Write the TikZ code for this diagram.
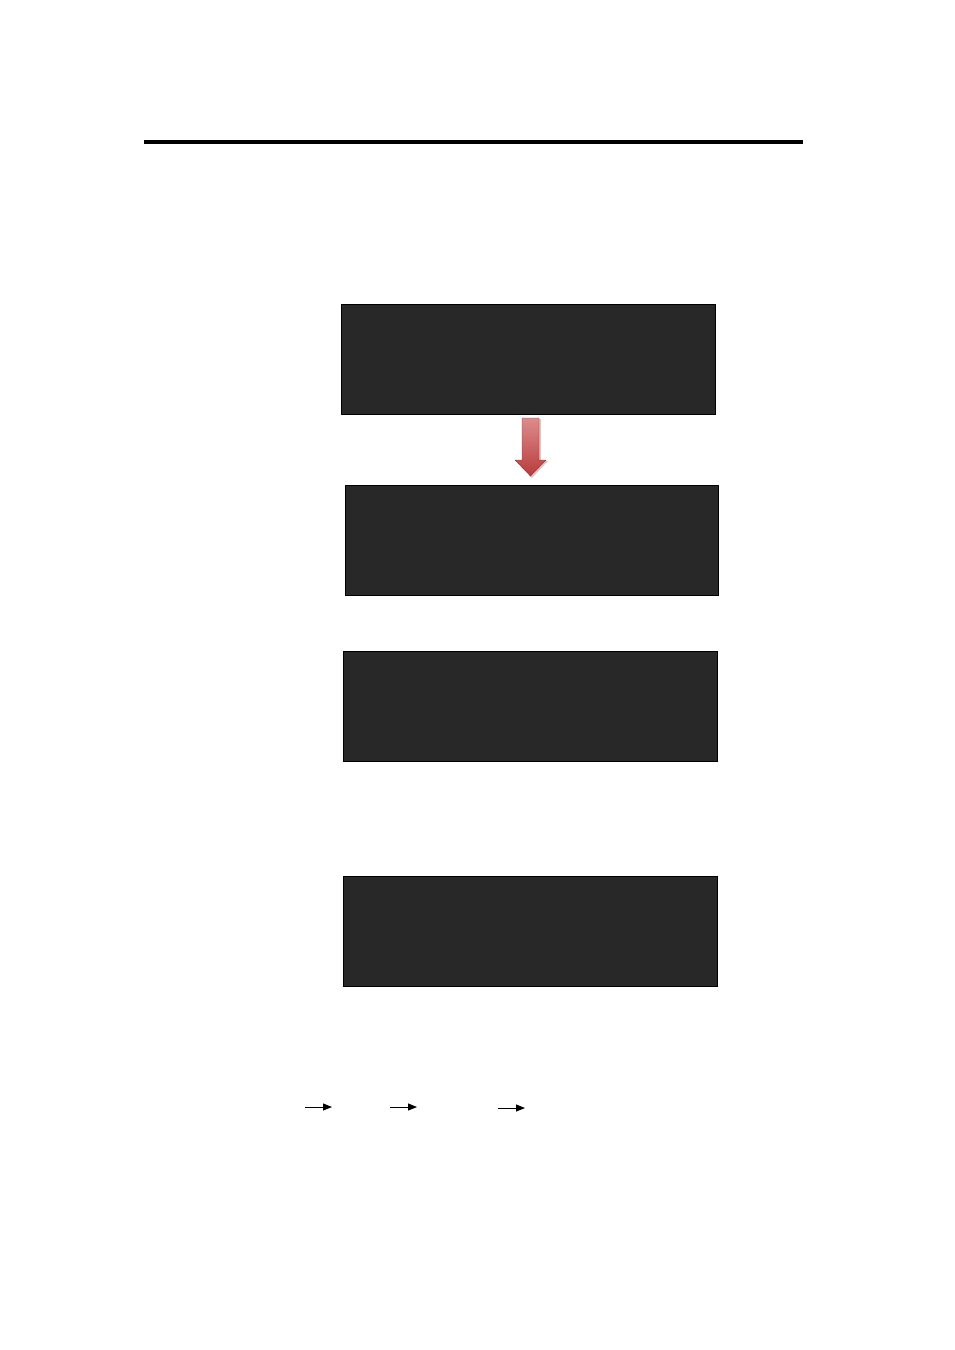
\documentclass[tikz,border=0pt]{standalone}
\usetikzlibrary{arrows.meta}
\definecolor{boxfill}{HTML}{282828}
\definecolor{arrowtop}{HTML}{DC8C8C}
\definecolor{arrowbot}{HTML}{B83C3C}
\begin{document}
\begin{tikzpicture}[x=1pt,y=-1pt,
  darkbox/.style={draw=black,line width=0.9pt,fill=boxfill},
  smallarrow/.style={draw=black,line width=1pt,-{Triangle[length=9pt,width=7pt]}}]
\useasboundingbox (0,0) rectangle (955,1350);
\fill[black] (144,140) rectangle (803,144);
\path[darkbox] (341,304) rectangle (715,414) coordinate (b1);
\path[darkbox] (345,485) rectangle (718,595) coordinate (b2);
\path[darkbox] (343,651) rectangle (717,761) coordinate (b3);
\path[darkbox] (343,876) rectangle (717,986) coordinate (b4);
% shadow of red arrow
\fill[black!20] (523,419) -- (541,419) -- (541,461) -- (548,461) -- (532,478) -- (516,461) -- (523,461) -- cycle;
\shade[top color=arrowtop,bottom color=arrowbot,draw=arrowbot!80!black,line width=0.4pt]
  (522,418) -- (539,418) -- (539,460) -- (546,460) -- (530.5,476) -- (515,460) -- (522,460) -- cycle;
\coordinate (a1s) at (305,1107); \coordinate (a1e) at (332,1107);
\coordinate (a2s) at (390,1107); \coordinate (a2e) at (417,1107);
\coordinate (a3s) at (498,1108); \coordinate (a3e) at (525,1108);
\draw[smallarrow] (a1s) -- (a1e);
\draw[smallarrow] (a2s) -- (a2e);
\draw[smallarrow] (a3s) -- (a3e);
\end{tikzpicture}
\end{document}
